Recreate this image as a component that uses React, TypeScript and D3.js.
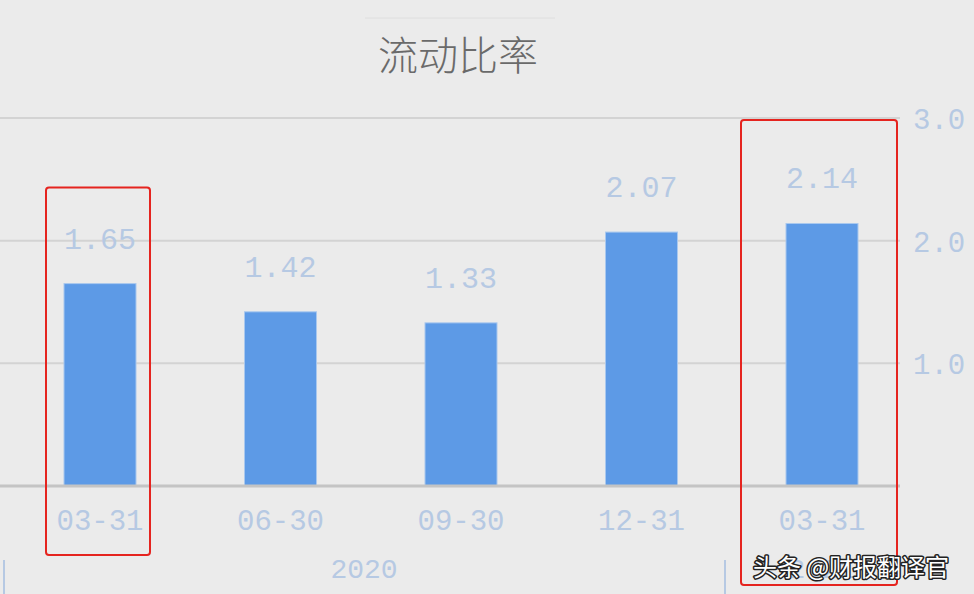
import { useEffect, useRef } from 'react';
import { select, scaleLinear, scalePoint } from 'd3';

const categories = ['03-31', '06-30', '09-30', '12-31', '03-31'];
const values = [1.65, 1.42, 1.33, 2.07, 2.14];
const yTicks = [1.0, 2.0, 3.0];
const years = ['2020', '2021'];
const highlighted = [0, 4];

const W = 974;
const H = 594;
const BAR_W = 72;
const LABEL_COLOR = '#b6c9e3';
const MONO = '"Liberation Mono", "DejaVu Sans Mono", monospace';

const App = () => {
  const ref = useRef<SVGSVGElement>(null);

  useEffect(() => {
    const svg = select(ref.current);
    svg.selectAll('*').remove();

    const x = scalePoint<number>()
      .domain(categories.map((_, i) => i))
      .range([100, 822]);
    const y = scaleLinear().domain([0, 3]).range([486, 118]);

    svg.append('rect').attr('width', W).attr('height', H).attr('fill', '#ebebeb');

    // title
    svg
      .append('line')
      .attr('x1', 365)
      .attr('x2', 555)
      .attr('y1', 18)
      .attr('y2', 18)
      .attr('stroke', '#dedede')
      .attr('stroke-width', 1);
    svg
      .append('text')
      .attr('x', 458)
      .attr('y', 70)
      .attr('text-anchor', 'middle')
      .attr('font-family', '"Noto Sans CJK SC", sans-serif')
      .attr('font-weight', 300)
      .attr('font-size', 40)
      .attr('fill', '#6a6a6a')
      .text('流动比率');

    // grid
    svg
      .selectAll('line.grid')
      .data(yTicks)
      .enter()
      .append('line')
      .attr('class', 'grid')
      .attr('x1', 0)
      .attr('x2', 900)
      .attr('y1', (d) => y(d))
      .attr('y2', (d) => y(d))
      .attr('stroke', '#d3d3d3')
      .attr('stroke-width', 2);

    svg
      .selectAll('text.ytick')
      .data(yTicks)
      .enter()
      .append('text')
      .attr('class', 'ytick')
      .attr('x', 913)
      .attr('y', (d) => y(d) + 11)
      .attr('font-family', MONO)
      .attr('font-size', 29)
      .attr('fill', LABEL_COLOR)
      .text((d) => d.toFixed(1));

    // bars
    svg
      .selectAll('rect.bar')
      .data(values)
      .enter()
      .append('rect')
      .attr('class', 'bar')
      .attr('x', (_, i) => (x(i) as number) - BAR_W / 2)
      .attr('width', BAR_W)
      .attr('y', (d) => y(d))
      .attr('height', (d) => y(0) - y(d))
      .attr('fill', '#5d9ae6')
      .attr('stroke', '#a9c8ee')
      .attr('stroke-width', 1);

    // baseline
    svg
      .append('line')
      .attr('x1', 0)
      .attr('x2', 900)
      .attr('y1', y(0))
      .attr('y2', y(0))
      .attr('stroke', '#c4c4c4')
      .attr('stroke-width', 3);

    // value labels
    svg
      .selectAll('text.val')
      .data(values)
      .enter()
      .append('text')
      .attr('class', 'val')
      .attr('x', (_, i) => x(i) as number)
      .attr('y', (d) => y(d) - 35)
      .attr('text-anchor', 'middle')
      .attr('font-family', MONO)
      .attr('font-size', 30)
      .attr('fill', LABEL_COLOR)
      .text((d) => d.toFixed(2));

    // category labels
    svg
      .selectAll('text.cat')
      .data(categories)
      .enter()
      .append('text')
      .attr('class', 'cat')
      .attr('x', (_, i) => x(i) as number)
      .attr('y', 530)
      .attr('text-anchor', 'middle')
      .attr('font-family', MONO)
      .attr('font-size', 29)
      .attr('fill', LABEL_COLOR)
      .text((d) => d);

    // year row
    [4, 725].forEach((sx) => {
      svg
        .append('line')
        .attr('x1', sx)
        .attr('x2', sx)
        .attr('y1', 560)
        .attr('y2', 594)
        .attr('stroke', LABEL_COLOR)
        .attr('stroke-width', 2);
    });
    svg
      .selectAll('text.year')
      .data(years)
      .enter()
      .append('text')
      .attr('class', 'year')
      .attr('x', (_, i) => (i === 0 ? 364 : x(4) as number))
      .attr('y', 578)
      .attr('text-anchor', 'middle')
      .attr('font-family', MONO)
      .attr('font-size', 28)
      .attr('fill', LABEL_COLOR)
      .text((d) => d);

    // red highlight boxes
    const boxTop = (i: number) => (i === 0 ? y(values[i]) - 96 : y(3) + 2);
    const boxBottom = (i: number) => (i === 0 ? 555 : 585);
    const boxHalf = (i: number) => (i === 0 ? 52 : 78);
    svg
      .selectAll('rect.hl')
      .data(highlighted)
      .enter()
      .append('rect')
      .attr('class', 'hl')
      .attr('x', (i) => (x(i) as number) - boxHalf(i) + (i === 0 ? -2 : -3))
      .attr('y', (i) => boxTop(i))
      .attr('width', (i) => boxHalf(i) * 2)
      .attr('height', (i) => boxBottom(i) - boxTop(i))
      .attr('rx', 3)
      .attr('fill', 'none')
      .attr('stroke', '#e5241f')
      .attr('stroke-width', 2);

    // watermark
    svg
      .append('text')
      .attr('x', 753)
      .attr('y', 576)
      .attr('font-family', '"Noto Sans CJK SC", sans-serif')
      .attr('font-size', 24)
      .attr('fill', '#ffffff')
      .attr('stroke', '#222')
      .attr('stroke-width', 3)
      .attr('paint-order', 'stroke')
      .attr('stroke-linejoin', 'round')
      .text('头条 @财报翻译官');
  }, []);

  return (
    <svg
      ref={ref}
      width={W}
      height={H}
      style={{ position: 'absolute', left: 0, top: 0, display: 'block' }}
    />
  );
};

export default App;
